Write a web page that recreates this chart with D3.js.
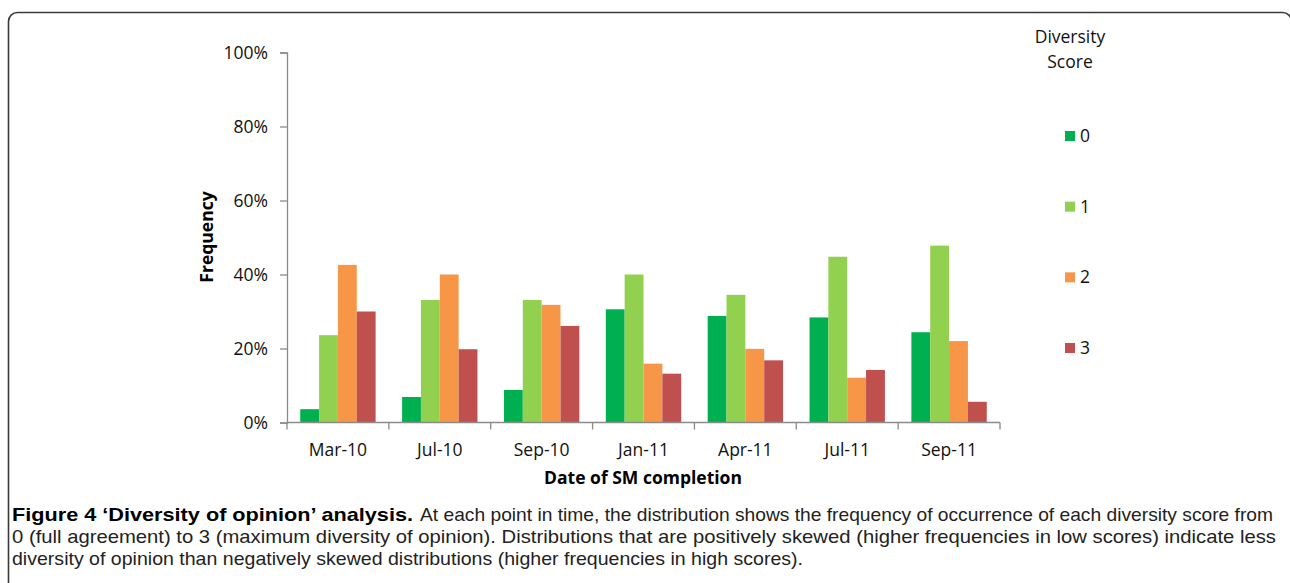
<!DOCTYPE html>
<html><head><meta charset="utf-8">
<script src="https://cdn.jsdelivr.net/npm/d3@7"></script>
<style>html,body{margin:0;padding:0;background:#fff;}svg{display:block;}</style>
</head><body>
<svg id="chart" width="1290" height="583"></svg>
<script>
const categories = ["Mar-10","Jul-10","Sep-10","Jan-11","Apr-11","Jul-11","Sep-11"];
const seriesNames = ["0","1","2","3"];
const score0 = [3.6, 6.9, 8.8, 30.6, 28.8, 28.4, 24.4];
const score1 = [23.6, 33.1, 33.1, 40.0, 34.5, 44.8, 47.8];
const score2 = [42.6, 40.0, 31.8, 15.9, 19.9, 12.1, 22.0];
const score3 = [30.0, 19.8, 26.1, 13.2, 16.8, 14.2, 5.6];
const yTicks = [0, 20, 40, 60, 80, 100];
const colors = ["#00b050", "#92d050", "#f79646", "#c0504d"];
const legendTitle = ["Diversity", "Score"];
const xTitle = "Date of SM completion";
const yTitle = "Frequency";
const captionBold = "Figure 4 \u2018Diversity of opinion\u2019 analysis.";
const captionLines = [
  "At each point in time, the distribution shows the frequency of occurrence of each diversity score from",
  "0 (full agreement) to 3 (maximum diversity of opinion). Distributions that are positively skewed (higher frequencies in low scores) indicate less",
  "diversity of opinion than negatively skewed distributions (higher frequencies in high scores)."
];

(function () {
const series = [score0, score1, score2, score3];
const svg = d3.select("#chart");
const font = "'Open Sans', sans-serif";
const capFont = "'Liberation Sans', Arial, sans-serif";
const fs = 17.5;

// frame
svg.append("rect").attr("x", 8.5).attr("y", 12.5).attr("width", 1283).attr("height", 640)
  .attr("rx", 9).attr("fill", "none").attr("stroke", "#3a3a3a").attr("stroke-width", 1.6);

const pL = 287, pR = 1000, pT = 52.5, pB = 422.5;
const x0 = d3.scaleBand().domain(categories).range([pL, pR]).paddingInner(0.26).paddingOuter(0.13);
const x1 = d3.scaleBand().domain(seriesNames).range([0, x0.bandwidth()]);
const y = d3.scaleLinear().domain([0, 100]).range([pB, pT]);
const xTickScale = d3.scaleBand().domain(categories).range([pL, pR]);

// bars
seriesNames.forEach((s, si) => {
  svg.append("g").selectAll("rect").data(categories).join("rect")
    .attr("x", c => x0(c) + x1(s))
    .attr("width", x1.bandwidth())
    .attr("y", (c, i) => y(series[si][i]))
    .attr("height", (c, i) => y(0) - y(series[si][i]))
    .attr("fill", colors[si]);
});

// y axis
const yAxis = svg.append("g").attr("transform", `translate(${pL},0)`)
  .call(d3.axisLeft(y).tickValues(yTicks).tickFormat(d => d + "%").tickSize(7).tickPadding(12));
yAxis.selectAll("line, path").attr("stroke", "#8a8a8a").attr("stroke-width", 1.3);
yAxis.selectAll("text").attr("font-family", font).attr("font-size", fs).attr("fill", "#111");

// x axis
const xAxisG = svg.append("g").attr("transform", `translate(0,${pB})`);
xAxisG.append("line").attr("x1", pL).attr("x2", pR).attr("y1", 0).attr("y2", 0)
  .attr("stroke", "#8a8a8a").attr("stroke-width", 1.3);
const tickPos = categories.map(c => xTickScale(c)).concat([pR]);
xAxisG.selectAll("line.tk").data(tickPos).join("line").attr("class", "tk")
  .attr("x1", d => d).attr("x2", d => d).attr("y1", 0).attr("y2", 7)
  .attr("stroke", "#8a8a8a").attr("stroke-width", 1.3);
xAxisG.selectAll("text").data(categories).join("text")
  .attr("x", c => xTickScale(c) + xTickScale.bandwidth() / 2)
  .attr("y", 33).attr("text-anchor", "middle")
  .attr("font-family", font).attr("font-size", fs).attr("fill", "#111").text(d => d);

// axis titles
svg.append("text").attr("x", 643).attr("y", 478).attr("dy", "0.35em").attr("text-anchor", "middle")
  .attr("font-family", font).attr("font-weight", "bold").attr("font-size", fs).attr("fill", "#000").text(xTitle);
svg.append("text").attr("transform", "translate(207,237) rotate(-90)").attr("dy", "0.35em").attr("text-anchor", "middle")
  .attr("font-family", font).attr("font-weight", "bold").attr("font-size", fs).attr("fill", "#000").text(yTitle);

// legend
legendTitle.forEach((t, i) => {
  svg.append("text").attr("x", 1070).attr("y", 37 + i * 24.5).attr("dy", "0.35em").attr("text-anchor", "middle")
    .attr("font-family", font).attr("font-size", fs).attr("fill", "#111").text(t);
});
const legY = d3.scalePoint().domain(seriesNames).range([136, 348]);
const lg = svg.append("g");
lg.selectAll("rect").data(seriesNames).join("rect")
  .attr("x", 1065).attr("y", d => legY(d) - 5).attr("width", 10).attr("height", 10)
  .attr("fill", (d, i) => colors[i]);
lg.selectAll("text").data(seriesNames).join("text")
  .attr("x", 1080).attr("y", d => legY(d)).attr("dy", "0.35em")
  .attr("font-family", font).attr("font-size", fs).attr("fill", "#111").text(d => d);

// caption
const capY = [521, 543, 565];
const capStarts = [420, 12, 12];
const capEnds = [1273, 1276, 803];
svg.append("text").attr("x", 12).attr("y", capY[0])
  .attr("font-family", capFont).attr("font-weight", "bold").attr("font-size", 19).attr("fill", "#000")
  .attr("textLength", 413 - 12).attr("lengthAdjust", "spacingAndGlyphs").text(captionBold);
capY.forEach((yy, i) => {
  svg.append("text").attr("x", capStarts[i]).attr("y", yy)
    .attr("font-family", capFont).attr("font-size", 19).attr("fill", "#222")
    .attr("textLength", capEnds[i] - capStarts[i]).attr("lengthAdjust", "spacingAndGlyphs")
    .text(captionLines[i]);
});
})();
</script>
</body></html>
